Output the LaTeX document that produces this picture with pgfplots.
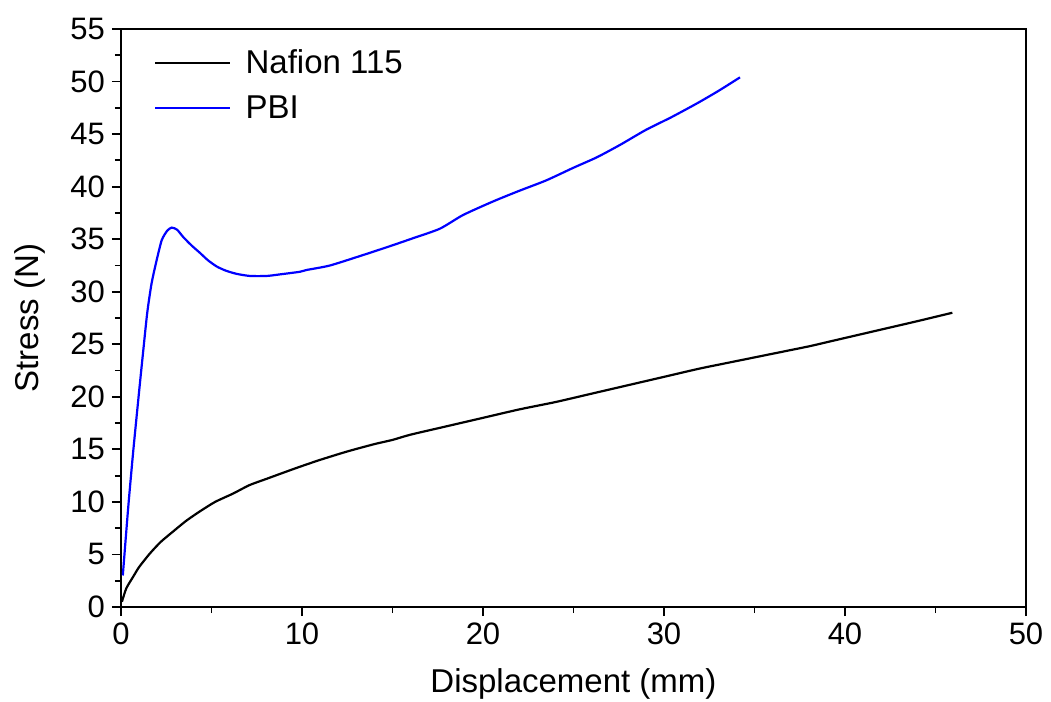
\documentclass[border=0pt]{standalone}
\usepackage{fontspec}
\setmainfont{Liberation Sans}
\usepackage{pgfplots}
\pgfplotsset{compat=1.18}
\begin{document}
\begin{tikzpicture}
\begin{axis}[
  scale only axis,
  width=452.5pt, height=289pt,
  xmin=0, xmax=50, ymin=0, ymax=55,
  xtick={0,10,...,50}, ytick={0,5,...,55},
  minor x tick num=1, minor y tick num=1,
  tick align=outside,
  xtick pos=bottom, ytick pos=left,
  major tick length=4.5pt, minor tick length=3pt,
  axis line style={line width=1pt},
  every tick/.style={line width=0.9pt, black},
  /pgf/number format/assume math mode=true,
  ticklabel style={font=\fontsize{15.5}{18}\selectfont},
  xlabel={Displacement (mm)}, ylabel={Stress (N)},
  label style={font=\fontsize{16.5}{20}\selectfont},
  xlabel style={yshift=-5pt},
  ylabel style={yshift=5.5pt},
  legend style={draw=none, fill=none, at={(0,1)}, anchor=north west,
    xshift=13.5pt, yshift=-6pt, font=\fontsize{16.5}{20}\selectfont,
    row sep=5.5pt},
  legend cell align=left,
  legend image code/.code={\draw[#1] (0pt,0pt) -- (37.5pt,0pt); \path (42.5pt,0pt);},
]
\addplot[black, line width=1.1pt, smooth, tension=0.4] coordinates {
(0.05,0.5) (0.3,1.8) (0.68,2.9) (1.0,3.8) (1.6,5.1) (2.2,6.2) (2.89,7.2)
(3.6,8.2) (4.36,9.1) (5.2,10.0) (6.2,10.8) (7.1,11.6) (8.05,12.2) (9.0,12.8)
(9.89,13.35) (11,14.0) (12.5,14.8) (14,15.5) (15,15.9) (16,16.4) (18,17.2)
(20,18.0) (22,18.8) (24,19.5) (26,20.3) (28,21.1) (30,21.9) (32,22.7)
(34,23.4) (36,24.1) (38,24.8) (39,25.2) (40,25.6) (42,26.4) (44,27.2) (45.93,28.0)
};
\addlegendentry{Nafion 115}
\addplot[blue, line width=1.1pt, smooth, tension=0.4] coordinates {
(0.1,3.0) (0.4,9.5) (0.68,14.9) (1.0,20.5) (1.23,24.4) (1.45,28.0) (1.69,30.8)
(1.97,33.0) (2.25,34.9) (2.55,35.8) (2.8,36.1) (3.1,35.9) (3.44,35.2) (3.9,34.4)
(4.36,33.7) (4.8,33.0) (5.29,32.4) (5.8,32.0) (6.39,31.7) (7.13,31.5) (8.05,31.5)
(8.78,31.65) (9.89,31.9) (10.26,32.07) (11.55,32.5) (13.39,33.5) (14.8,34.3)
(16.15,35.1) (17.62,36.0) (18.9,37.3) (20.57,38.6) (22.0,39.6) (23.5,40.6)
(25.0,41.8) (26.3,42.8) (27.6,44.0) (29.0,45.4) (30.4,46.6) (31.8,47.9)
(33.0,49.1) (34.2,50.4)
};
\addlegendentry{PBI}
\end{axis}
\pgfresetboundingbox
\path[use as bounding box] ([xshift=-60.5pt,yshift=-47.5pt]current axis.south west) rectangle ([xshift=12.5pt,yshift=14.5pt]current axis.north east);
\end{tikzpicture}
\end{document}
